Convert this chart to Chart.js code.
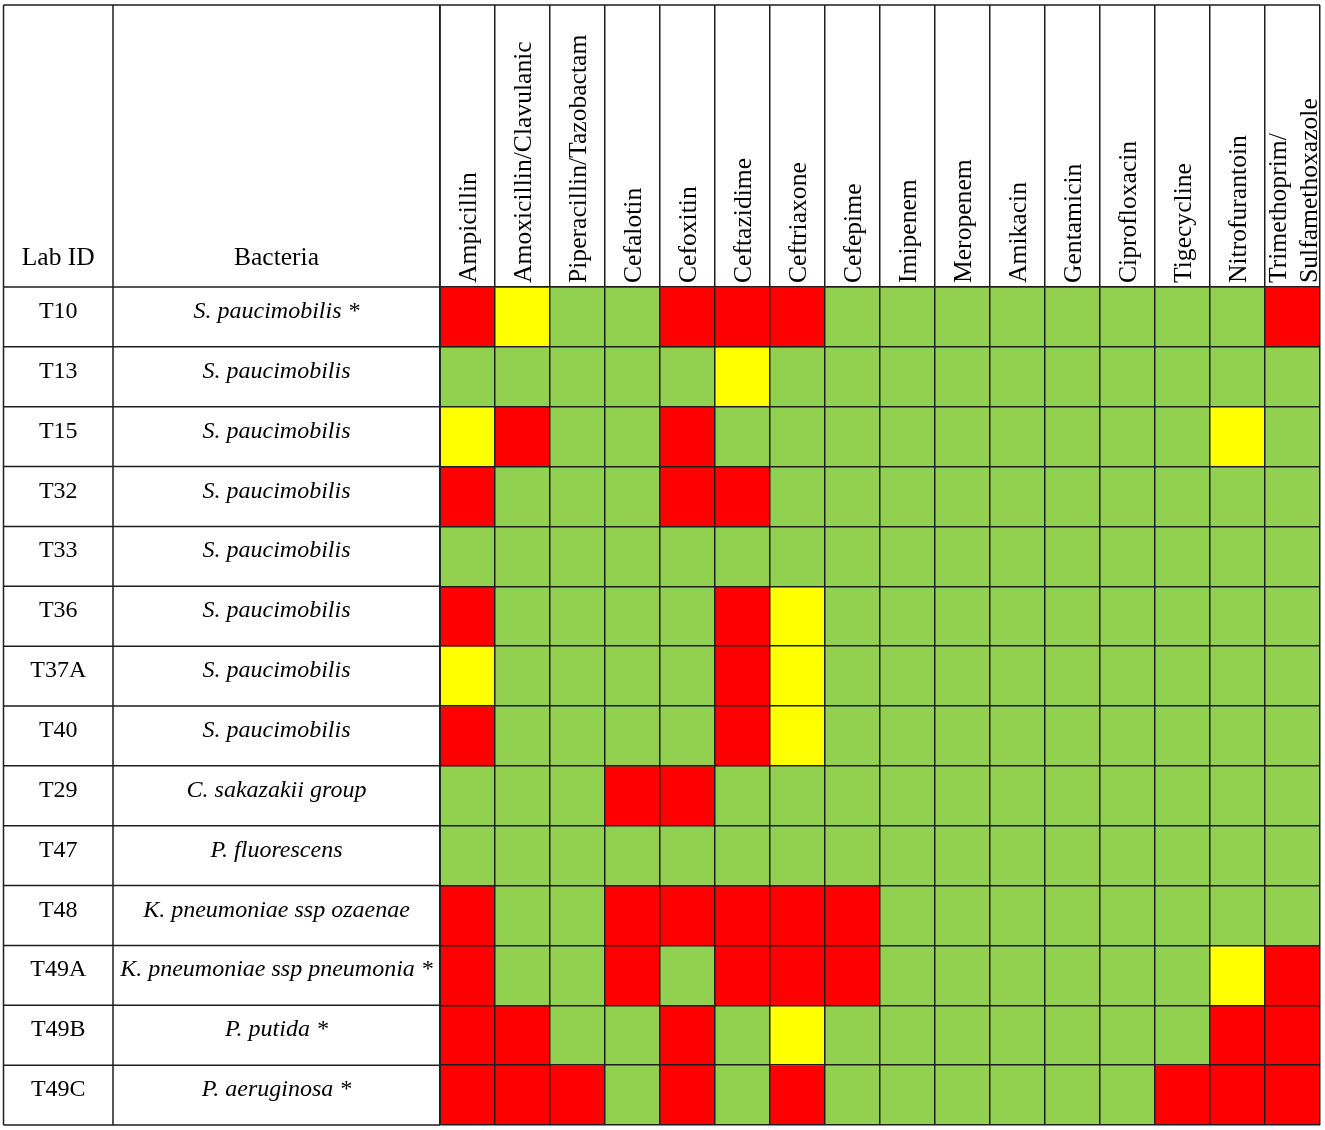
<!DOCTYPE html>
<html>
<head>
<meta charset="utf-8">
<title>Antibiotic susceptibility</title>
<script src="https://cdn.jsdelivr.net/npm/chart.js@4.4.1/dist/chart.umd.min.js"></script>
<style>
    html, body { margin: 0; padding: 0; background: #fff; }
    .table-wrap { position: relative; width: 1325px; height: 1130px; }
</style>
</head>
<body>
<div class="table-wrap">
    <canvas id="susceptibilityChart"></canvas>
</div>
<script>
// Column headers (antibiotics)
const antibiotics = [
    'Ampicillin', 'Amoxicillin/Clavulanic', 'Piperacillin/Tazobactam', 'Cefalotin',
    'Cefoxitin', 'Ceftazidime', 'Ceftriaxone', 'Cefepime', 'Imipenem', 'Meropenem',
    'Amikacin', 'Gentamicin', 'Ciprofloxacin', 'Tigecycline', 'Nitrofurantoin',
    ['Trimethoprim/', 'Sulfamethoxazole']
];

// Row labels
const labIds = ['T10', 'T13', 'T15', 'T32', 'T33', 'T36', 'T37A', 'T40', 'T29', 'T47', 'T48', 'T49A', 'T49B', 'T49C'];
const bacteria = [
    'S. paucimobilis *', 'S. paucimobilis', 'S. paucimobilis', 'S. paucimobilis',
    'S. paucimobilis', 'S. paucimobilis', 'S. paucimobilis', 'S. paucimobilis',
    'C. sakazakii group', 'P. fluorescens', 'K. pneumoniae ssp ozaenae',
    'K. pneumoniae ssp pneumonia *', 'P. putida *', 'P. aeruginosa *'
];

// R = resistant, I = intermediate, S = susceptible (one letter per antibiotic)
const results = [
    'RISSRRRSSSSSSSSR',
    'SSSSSISSSSSSSSSS',
    'IRSSRSSSSSSSSSIS',
    'RSSSRRSSSSSSSSSS',
    'SSSSSSSSSSSSSSSS',
    'RSSSSRISSSSSSSSS',
    'ISSSSRISSSSSSSSS',
    'RSSSSRISSSSSSSSS',
    'SSSRRSSSSSSSSSSS',
    'SSSSSSSSSSSSSSSS',
    'RSSRRRRRSSSSSSSS',
    'RSSRSRRRSSSSSSIR',
    'RRSSRSISSSSSSSRR',
    'RRRSRSRSSSSSSRRR'
];

const colours = { R: '#FF0000', I: '#FFFF00', S: '#92D050' };
const LINE = '#1e1e1e';
const SERIF = "'Liberation Serif', 'Times New Roman', serif";

// Draws the Lab ID / Bacteria columns and the outer frame of the table
const tableFrame = {
    id: 'tableFrame',
    afterDraw(chart) {
        const { ctx, chartArea } = chart;
        const y = chart.scales.y;
        const left = 3.5;
        const split = 113;
        const top = 5;

        ctx.save();
        ctx.strokeStyle = LINE;
        ctx.lineWidth = 1.5;
        ctx.beginPath();
        ctx.moveTo(left, top);
        ctx.lineTo(chartArea.right, top);
        [left, split, chartArea.left].forEach(px => {
            ctx.moveTo(px, top);
            ctx.lineTo(px, chartArea.bottom);
        });
        for (let i = 0; i <= labIds.length; i++) {
            const py = y.getPixelForValue(i);
            ctx.moveTo(left, py);
            ctx.lineTo(chartArea.left, py);
        }
        ctx.stroke();

        // Header text
        ctx.fillStyle = '#000';
        ctx.textAlign = 'center';
        ctx.textBaseline = 'alphabetic';
        ctx.font = '25.5px ' + SERIF;
        const labX = (left + split) / 2;
        const bacX = (split + chartArea.left) / 2;
        ctx.fillText('Lab ID', labX, chartArea.top - 22);
        ctx.fillText('Bacteria', bacX, chartArea.top - 22);

        // Row text
        labIds.forEach((id, i) => {
            const rowTop = y.getPixelForValue(i);
            ctx.font = '24px ' + SERIF;
            ctx.fillText(id, labX, rowTop + 31);
            ctx.font = 'italic 24px ' + SERIF;
            ctx.fillText(bacteria[i], bacX, rowTop + 31);
        });
        ctx.restore();
    }
};

// One stacked dataset per isolate, each cell one unit tall
const datasets = labIds.map((id, r) => ({
    label: id + ' ' + bacteria[r],
    data: antibiotics.map(() => 1),
    backgroundColor: results[r].split('').map(c => colours[c]),
    borderWidth: 0,
    barPercentage: 1,
    categoryPercentage: 1
}));

const lastCol = antibiotics.length - 1;

const ctx = document.getElementById('susceptibilityChart').getContext('2d');
new Chart(ctx, {
    type: 'bar',
    data: {
        labels: antibiotics,
        datasets: datasets
    },
    options: {
        responsive: true,
        maintainAspectRatio: false,
        animation: false,
        layout: {
            padding: { left: 440, right: 5, top: 5, bottom: 5 }
        },
        plugins: {
            legend: { display: false },
            tooltip: { enabled: false }
        },
        scales: {
            x: {
                position: 'top',
                stacked: true,
                grid: {
                    offset: true,
                    color: LINE,
                    lineWidth: 1.5,
                    tickLength: 282,
                    tickColor: LINE,
                    tickWidth: 1.5,
                    z: 1
                },
                border: { color: LINE, width: 1.5, z: 1 },
                ticks: {
                    autoSkip: false,
                    minRotation: 90,
                    maxRotation: 90,
                    padding: -278,
                    labelOffset: 33,
                    // the two-line header sits centred on its column
                    showLabelBackdrop: c => c.index === lastCol,
                    backdropColor: 'rgba(0,0,0,0)',
                    color: '#000',
                    font: { family: SERIF, size: 25.6 }
                },
                afterFit: scale => { scale.height = 282; }
            },
            y: {
                stacked: true,
                reverse: true,
                min: 0,
                max: labIds.length,
                ticks: { display: false, stepSize: 1 },
                grid: { color: LINE, lineWidth: 1.5, drawTicks: false, z: 1 },
                border: { color: LINE, width: 1.5, z: 1 },
                afterFit: scale => { scale.width = 0; }
            }
        }
    },
    plugins: [tableFrame]
});
</script>
</body>
</html>
